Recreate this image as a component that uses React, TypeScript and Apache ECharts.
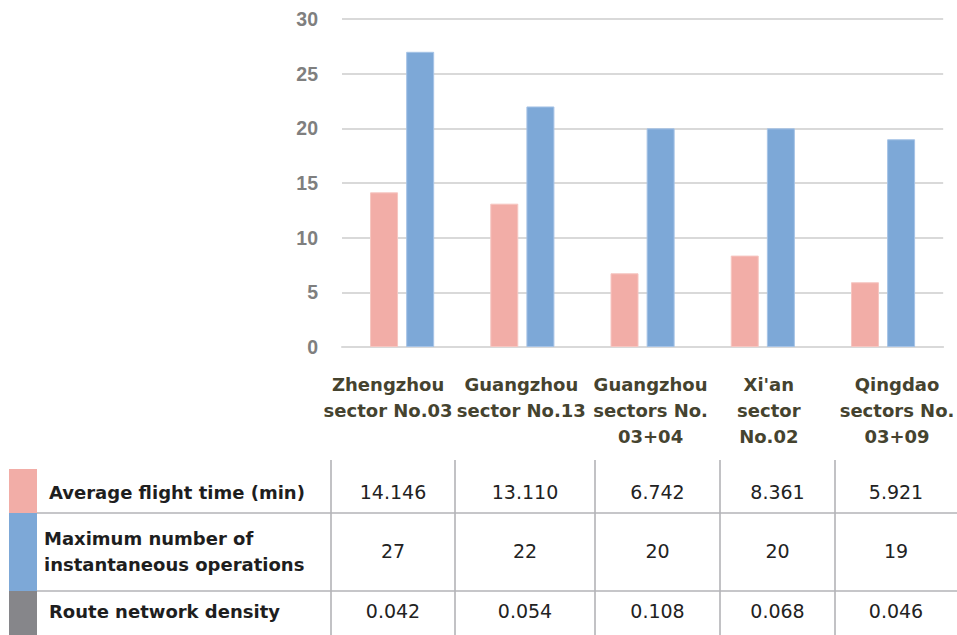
import React, { useEffect, useRef } from "react";
import * as echarts from "echarts";

// Sector names shown under the bars (line breaks as laid out on the axis)
const categories = [
  "Zhengzhou\nsector No.03",
  "Guangzhou\nsector No.13",
  "Guangzhou\nsectors No.\n03+04",
  "Xi'an\nsector\nNo.02",
  "Qingdao\nsectors No.\n03+09",
];

// Series values
const avgFlightTime = [14.146, 13.11, 6.742, 8.361, 5.921];
const maxOperations = [27, 22, 20, 20, 19];
const routeDensity = [0.042, 0.054, 0.108, 0.068, 0.046];

// Table row titles
const rowNames = [
  "Average flight time (min)",
  "Maximum number of\ninstantaneous operations",
  "Route network density",
];

// Y-axis range
const yMin = 0;
const yMax = 30;
const yStep = 5;

const PINK = "#F2ADA7";
const BLUE = "#7DA8D7";
const GRAY = "#86868A";

// Horizontal nudge of each category label, in px
const labelShift = [-14, -1, 8, 6, 14];

// Data table geometry
const colEdges = [331, 455, 595, 720, 835, 957];
const rowEdges = [469, 513, 591, 635];
const rowLabelX = [49, 44, 49];
const tableTop = 460;
const swatchX = 9;
const swatchW = 28;

function buildTable(): any[] {
  const els: any[] = [];
  const lineStyle = { stroke: "#b3b3b7", lineWidth: 1.6 };
  // vertical column separators
  colEdges.slice(0, 5).forEach((x) => {
    els.push({ type: "line", shape: { x1: x, y1: tableTop, x2: x, y2: 635 }, style: lineStyle, silent: true });
  });
  // horizontal row separators
  [rowEdges[1], rowEdges[2]].forEach((y) => {
    els.push({ type: "line", shape: { x1: swatchX + swatchW, y1: y, x2: 957, y2: y }, style: lineStyle, silent: true });
  });
  // colour keys
  const keyColors = [PINK, BLUE, GRAY];
  keyColors.forEach((c, i) => {
    els.push({
      type: "rect",
      shape: { x: swatchX, y: rowEdges[i], width: swatchW, height: rowEdges[i + 1] - rowEdges[i] },
      style: { fill: c },
      silent: true,
    });
  });
  // row titles
  const rowCenters = [492, 551, 611];
  rowNames.forEach((name, i) => {
    els.push({
      type: "text",
      x: rowLabelX[i],
      y: rowCenters[i],
      style: {
        text: name,
        fill: "#1e1e1e",
        font: "bold 18px 'DejaVu Sans'",
        lineHeight: 26,
        verticalAlign: "middle",
        align: "left",
      },
      silent: true,
    });
  });
  // cell values
  const rows = [
    avgFlightTime.map((v) => v.toFixed(3)),
    maxOperations.map((v) => String(v)),
    routeDensity.map((v) => v.toFixed(3)),
  ];
  rows.forEach((vals, r) => {
    vals.forEach((t, c) => {
      els.push({
        type: "text",
        x: (colEdges[c] + colEdges[c + 1]) / 2,
        y: rowCenters[r],
        style: {
          text: t,
          fill: "#222222",
          font: "19px 'DejaVu Sans'",
          align: "center",
          verticalAlign: "middle",
        },
        silent: true,
      });
    });
  });
  return els;
}

export default function App() {
  const ref = useRef<HTMLDivElement>(null);

  useEffect(() => {
    if (!ref.current) return;
    const chart = echarts.init(ref.current, null, { renderer: "svg" });

    const labelFont = {
      fontFamily: "DejaVu Sans",
      fontWeight: "bold" as const,
      fontSize: 18,
      lineHeight: 26,
      color: "#45432f",
    };
    const rich: Record<string, any> = {};
    labelShift.forEach((s, i) => {
      rich["c" + i] = {
        ...labelFont,
        padding: s >= 0 ? [0, 0, 0, 2 * s] : [0, -2 * s, 0, 0],
      };
    });

    chart.setOption({
      animation: false,
      grid: { left: 342, right: 10, top: 19, bottom: 288, containLabel: false },
      xAxis: {
        type: "category",
        data: categories,
        axisLine: { show: true, lineStyle: { color: "#d9d9d9", width: 2 } },
        axisTick: { show: false },
        axisLabel: {
          interval: 0,
          margin: 24,
          ...labelFont,
          formatter: (value: string, index: number) =>
            value
              .split("\n")
              .map((l) => `{c${index}|${l}}`)
              .join("\n"),
          rich,
        },
      },
      yAxis: {
        type: "value",
        min: yMin,
        max: yMax,
        interval: yStep,
        axisLine: { show: false },
        axisTick: { show: false },
        splitLine: { lineStyle: { color: "#d9d9d9", width: 2 } },
        axisLabel: {
          margin: 24,
          color: "#7f7f7f",
          fontFamily: "Liberation Sans",
          fontWeight: "bold",
          fontSize: 19.5,
        },
      },
      series: [
        {
          name: "Average flight time (min)",
          type: "bar",
          data: avgFlightTime,
          barWidth: 28,
          barGap: "29%",
          itemStyle: { color: PINK, borderColor: "#f6c6c1", borderWidth: 1 },
        },
        {
          name: "Maximum number of instantaneous operations",
          type: "bar",
          data: maxOperations,
          barWidth: 28,
          itemStyle: { color: BLUE, borderColor: "#a6c3e6", borderWidth: 1 },
        },
      ],
      graphic: buildTable(),
    });

    return () => chart.dispose();
  }, []);

  return (
    <div
      ref={ref}
      style={{ position: "absolute", left: 0, top: 0, width: 957, height: 635, background: "#ffffff" }}
    />
  );
}
